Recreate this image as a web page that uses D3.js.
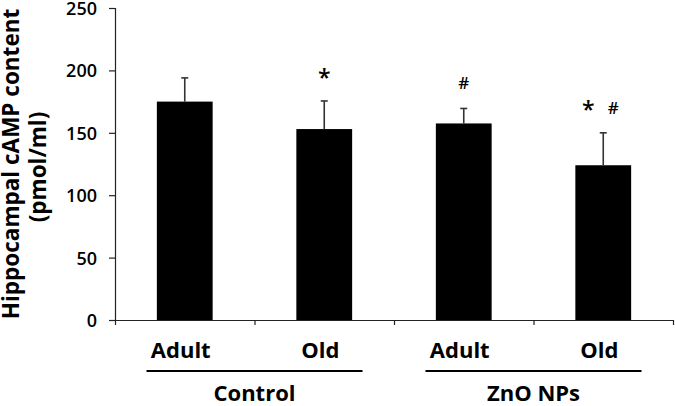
<!DOCTYPE html>
<html>
<head>
<meta charset="utf-8">
<script src="https://cdn.jsdelivr.net/npm/d3@7"></script>
<style>
  html, body { margin: 0; padding: 0; background: #fff; }
  svg { display: block; }
  text { font-family: "Open Sans", "Liberation Sans", Arial, sans-serif; }
</style>
</head>
<body>
<svg id="chart" width="675" height="406"></svg>
<script>
// ---- data ----
const categories = ["Adult", "Old", "Adult", "Old"];
const groups = ["Control", "ZnO NPs"];
const means = [175, 153, 157.5, 124];
const errors = [19, 22.5, 12, 26];
const marks = [[], ["*"], ["#"], ["*", "#"]];
const yTicks = [0, 50, 100, 150, 200, 250];
const yTitle = ["Hippocampal cAMP content", "(pmol/ml)"];

// ---- layout ----
const FONT = "Open Sans, Liberation Sans, Arial, sans-serif";
const svg = d3.select("#chart");
const x0 = 115, x1 = 673, yTop = 8, yBot = 320;

const x = d3.scaleBand().domain(d3.range(categories.length)).range([x0, x1]).paddingInner(0.6).paddingOuter(0.3);
const xEdge = d3.scaleLinear().domain([0, categories.length]).range([x0, x1]);
const y = d3.scaleLinear().domain([0, 250]).range([yBot, yTop]);

// y axis
const yAxis = svg.append("g").attr("transform", `translate(${x0},0)`)
  .call(d3.axisLeft(y).tickValues(yTicks).tickSize(6).tickPadding(12));
yAxis.select(".domain").attr("stroke", "#222").attr("stroke-width", 1.2);
yAxis.selectAll(".tick line").attr("stroke", "#222").attr("stroke-width", 1.2);
yAxis.selectAll(".tick text").attr("font-size", 18).attr("font-weight", 600)
  .attr("fill", "#000").attr("font-family", FONT).attr("dy", "0.36em");

// x axis (edge ticks)
const xAxis = svg.append("g").attr("transform", `translate(0,${yBot})`)
  .call(d3.axisBottom(xEdge).tickValues(d3.range(categories.length + 1)).tickSize(5).tickFormat(""));
xAxis.select(".domain").attr("stroke", "#222").attr("stroke-width", 1.2).attr("d", `M${x0},0.5H${x1}`);
xAxis.selectAll(".tick line").attr("stroke", "#222").attr("stroke-width", 1.2);

// bars
svg.append("g").selectAll("rect").data(means).join("rect")
  .attr("x", (d, i) => x(i)).attr("width", x.bandwidth())
  .attr("y", d => y(d)).attr("height", d => yBot - y(d))
  .attr("fill", "#000");

// error bars (upper only)
const eb = svg.append("g").attr("stroke", "#333").attr("stroke-width", 1.6);
means.forEach((m, i) => {
  const cx = x(i) + x.bandwidth() / 2;
  eb.append("line").attr("x1", cx).attr("x2", cx).attr("y1", y(m)).attr("y2", y(m + errors[i]));
  eb.append("line").attr("x1", cx - 3.5).attr("x2", cx + 3.5).attr("y1", y(m + errors[i])).attr("y2", y(m + errors[i]));
});

// significance marks
means.forEach((m, i) => {
  const cx = x(i) + x.bandwidth() / 2;
  const ms = marks[i];
  const offs = ms.length === 2 ? [-15, 10] : [0];
  ms.forEach((s, k) => {
    const isStar = s === "*";
    svg.append("text")
      .attr("x", cx + offs[k])
      .attr("y", y(m + errors[i]) - (isStar ? 15 : 19))
      .attr("text-anchor", "middle")
      .attr("font-size", isStar ? 23 : 17)
      .attr("font-weight", 600)
      .attr("font-family", FONT)
      .attr("fill", "#000")
      .text(s);
  });
});

// category labels
svg.append("g").selectAll("text").data(categories).join("text")
  .attr("x", (d, i) => x(i) + x.bandwidth() / 2 - 4)
  .attr("y", 358)
  .attr("text-anchor", "middle")
  .attr("font-size", 22).attr("font-weight", "bold").attr("fill", "#000")
  .attr("font-family", FONT)
  .text(d => d);

// group underline + labels
groups.forEach((g, gi) => {
  const cx = xEdge(gi * 2 + 1);
  svg.append("line").attr("x1", cx - 108).attr("x2", cx + 108)
    .attr("y1", 371).attr("y2", 371).attr("stroke", "#000").attr("stroke-width", 2);
  svg.append("text").attr("x", cx).attr("y", 401)
    .attr("text-anchor", "middle").attr("font-size", 22).attr("font-weight", "bold")
    .attr("font-family", FONT).attr("fill", "#000").text(g);
});

// y title
const tcy = 164;
svg.append("text").attr("transform", `translate(19,${tcy}) rotate(-90)`)
  .attr("text-anchor", "middle").attr("font-size", 22.5).attr("font-weight", "bold")
  .attr("font-family", FONT).attr("fill", "#000").text(yTitle[0]);
svg.append("text").attr("transform", `translate(46,${tcy + 3}) rotate(-90)`)
  .attr("text-anchor", "middle").attr("font-size", 22.5).attr("font-weight", "bold")
  .attr("font-family", FONT).attr("fill", "#000").text(yTitle[1]);
</script>
</body>
</html>
